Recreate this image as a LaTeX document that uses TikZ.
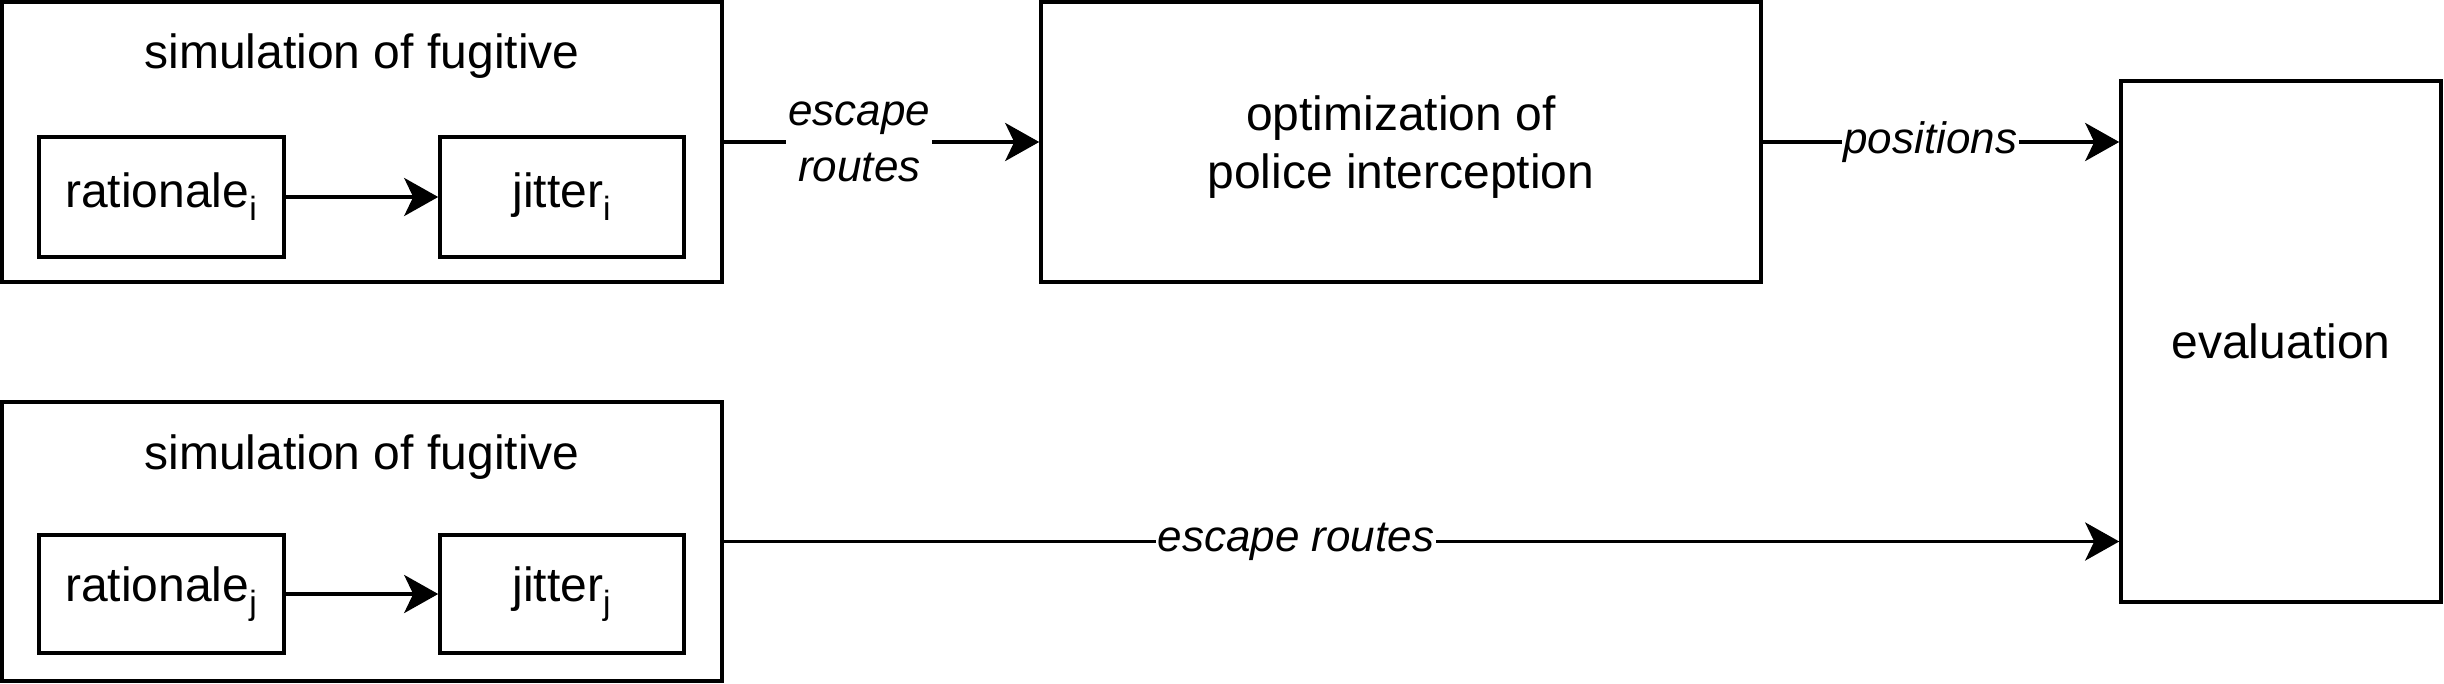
\documentclass[tikz,border=0pt]{standalone}
\usepackage{fontspec}
\setmainfont{Liberation Sans}
\usetikzlibrary{arrows.meta}
\newcommand\idx[1]{\textsubscript{\raisebox{-0.3ex}{#1}}}

\begin{document}
\begin{tikzpicture}[x=0.5pt,y=-0.5pt,
  box/.style={draw, line width=1.8pt, inner sep=0pt, align=center, font={\fontsize{24}{29}\selectfont}},
  flow/.style={line width=1.8pt, -{Stealth[length=17pt,width=19pt,inset=4.5pt]}},
  tag/.style={fill=white, inner sep=1pt, align=center, font={\fontsize{22}{28}\selectfont\itshape}}]
\useasboundingbox (0,0) rectangle (2444,684);
\node[box, minimum width=360pt, minimum height=140pt] (simi) at (362,142) {};
\node[font={\fontsize{24}{29}\selectfont}] (titlei) at (362,56) {simulation of fugitive};
\node[box, minimum width=122.5pt, minimum height=60pt] (rati) at (161.5,197) {rationale\idx{i}};
\node[box, minimum width=122pt, minimum height=60pt] (jiti) at (562,197) {jitter\idx{i}};
\node[box, minimum width=360pt, minimum height=140pt, text depth=0pt] (opt) at (1401,142) {optimization of\\police interception};
\node[box, minimum width=160pt, minimum height=260.5pt] (eval) at (2281,341.5) {evaluation};
\node[box, minimum width=360pt, minimum height=139.5pt] (simj) at (362,541.5) {};
\node[font={\fontsize{24}{29}\selectfont}] (titlej) at (362,457) {simulation of fugitive};
\node[box, minimum width=122.5pt, minimum height=59pt] (ratj) at (161.5,594) {rationale\idx{j}};
\node[box, minimum width=122pt, minimum height=59pt] (jitj) at (562,594) {jitter\idx{j}};
\draw[flow] (rati) -- (jiti);
\draw[flow] (ratj) -- (jitj);
\draw[flow] (simi.east) -- node[tag, pos=0.43] {escape\\routes} (simi.east -| opt.west);
\draw[flow] (simi.east -| opt.east) -- node[tag, pos=0.47] {positions} (simi.east -| eval.west);
\draw[flow] (simj.east) -- node[tag, pos=0.41] {escape routes} (simj.east -| eval.west);
\end{tikzpicture}
\end{document}
